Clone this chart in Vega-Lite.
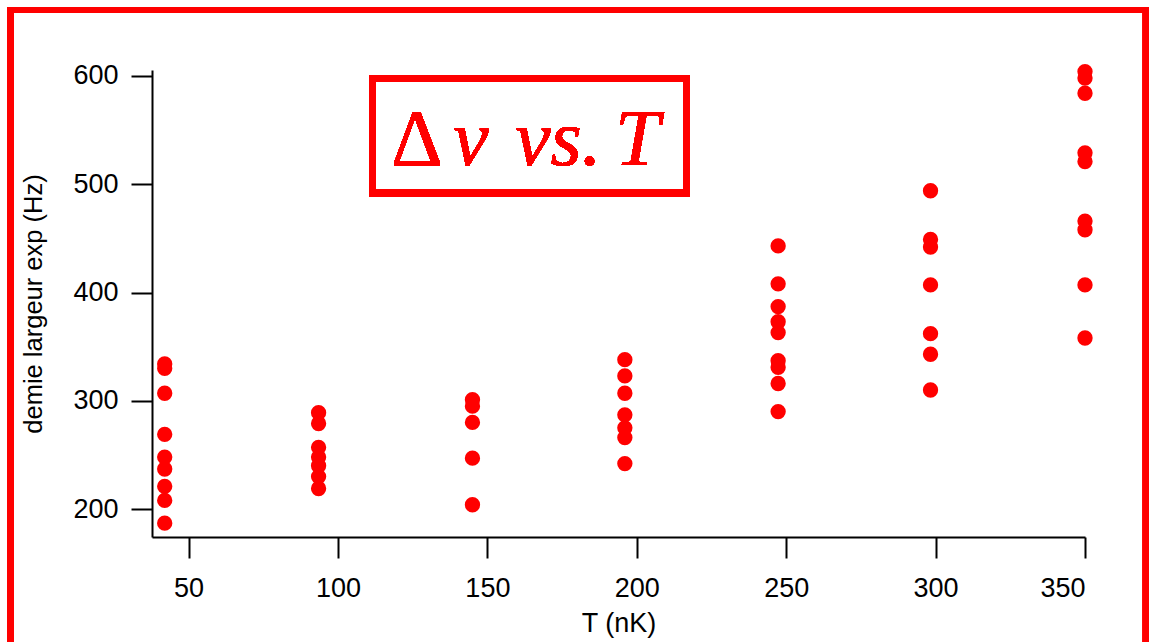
{
  "$schema": "https://vega.github.io/schema/vega-lite/v6.json",
  "autosize": {"type": "none"},
  "width": 933,
  "height": 467,
  "padding": {"left": 152, "top": 70, "right": 67, "bottom": 105},
  "background": "white",
  "config": {
    "view": {"stroke": null},
    "axis": {
      "grid": false,
      "domainColor": "black",
      "domainWidth": 2,
      "tickColor": "black",
      "tickWidth": 2,
      "tickSize": 21,
      "labelFont": "Liberation Sans",
      "labelFontSize": 27,
      "labelColor": "black",
      "titleFont": "Liberation Sans",
      "titleFontWeight": "normal",
      "titleColor": "black"
    }
  },
  "data": {
    "values": [
      {"T": 42, "w": 334}, {"T": 42, "w": 330}, {"T": 42, "w": 307}, {"T": 42, "w": 269},
      {"T": 42, "w": 248}, {"T": 42, "w": 237}, {"T": 42, "w": 221}, {"T": 42, "w": 208},
      {"T": 42, "w": 187},
      {"T": 93.5, "w": 289}, {"T": 93.5, "w": 279}, {"T": 93.5, "w": 257}, {"T": 93.5, "w": 248},
      {"T": 93.5, "w": 240}, {"T": 93.5, "w": 230}, {"T": 93.5, "w": 219},
      {"T": 145, "w": 301}, {"T": 145, "w": 295}, {"T": 145, "w": 280}, {"T": 145, "w": 247},
      {"T": 145, "w": 204},
      {"T": 196, "w": 338}, {"T": 196, "w": 323}, {"T": 196, "w": 307}, {"T": 196, "w": 287},
      {"T": 196, "w": 275}, {"T": 196, "w": 266}, {"T": 196, "w": 242},
      {"T": 247.3, "w": 443}, {"T": 247.3, "w": 408}, {"T": 247.3, "w": 387}, {"T": 247.3, "w": 373},
      {"T": 247.3, "w": 363}, {"T": 247.3, "w": 337}, {"T": 247.3, "w": 331}, {"T": 247.3, "w": 316},
      {"T": 247.3, "w": 290},
      {"T": 298.3, "w": 494}, {"T": 298.3, "w": 449}, {"T": 298.3, "w": 442}, {"T": 298.3, "w": 407},
      {"T": 298.3, "w": 362}, {"T": 298.3, "w": 343}, {"T": 298.3, "w": 310},
      {"T": 350, "w": 604}, {"T": 350, "w": 598}, {"T": 350, "w": 584}, {"T": 350, "w": 529},
      {"T": 350, "w": 521}, {"T": 350, "w": 466}, {"T": 350, "w": 458}, {"T": 350, "w": 407},
      {"T": 350, "w": 358}
    ]
  },
  "encoding": {
    "x": {
      "field": "T", "type": "quantitative",
      "scale": {"domain": [37.75, 350], "nice": false, "zero": false},
      "axis": {"values": [50, 100, 150, 200, 250, 300, 350], "title": "T (nK)", "titleFontSize": 27, "labelPadding": 17, "titlePadding": 9}
    },
    "y": {
      "field": "w", "type": "quantitative",
      "scale": {"domain": [174.2, 605.5], "nice": false, "zero": false},
      "axis": {"values": [200, 300, 400, 500, 600], "title": "demie largeur exp (Hz)", "titleFontSize": 25.5, "labelPadding": 13, "titlePadding": 26}
    }
  },
  "layer": [
    {
      "mark": {"type": "rect", "filled": false, "stroke": "#ff0000", "strokeWidth": 6},
      "encoding": {
        "x": {"datum": -9.5, "type": "quantitative"},
        "x2": {"datum": 370.4},
        "y": {"datum": 660.9, "type": "quantitative"},
        "y2": {"datum": 70}
      }
    },
    {
      "mark": {"type": "circle", "size": 235, "color": "#ff0000", "opacity": 1}
    },
    {
      "mark": {"type": "rect", "filled": false, "stroke": "#ff0000", "strokeWidth": 6.5},
      "encoding": {
        "x": {"datum": 111.55, "type": "quantitative"},
        "x2": {"datum": 216.6},
        "y": {"datum": 597.7, "type": "quantitative"},
        "y2": {"datum": 492}
      }
    },
    {
      "mark": {"type": "text", "text": "Δ", "font": "Liberation Serif", "fontSize": 80, "color": "#ff0000", "align": "center", "baseline": "alphabetic"},
      "encoding": {
        "x": {"datum": 126.4, "type": "quantitative"},
        "y": {"datum": 517.8, "type": "quantitative"}
      }
    },
    {
      "mark": {"type": "text", "text": "ν", "font": "Liberation Serif", "fontStyle": "italic", "fontSize": 80, "color": "#ff0000", "align": "left", "baseline": "alphabetic"},
      "encoding": {
        "x": {"datum": 138.5, "type": "quantitative"},
        "y": {"datum": 517.8, "type": "quantitative"}
      }
    },
    {
      "mark": {"type": "text", "text": "vs.", "font": "Liberation Serif", "fontStyle": "italic", "fontSize": 80, "color": "#ff0000", "align": "left", "baseline": "alphabetic"},
      "encoding": {
        "x": {"datum": 159.2, "type": "quantitative"},
        "y": {"datum": 517.8, "type": "quantitative"}
      }
    },
    {
      "mark": {"type": "text", "text": "T", "font": "Liberation Serif", "fontStyle": "italic", "fontSize": 80, "color": "#ff0000", "align": "left", "baseline": "alphabetic"},
      "encoding": {
        "x": {"datum": 192.7, "type": "quantitative"},
        "y": {"datum": 517.8, "type": "quantitative"}
      }
    }
  ]
}
